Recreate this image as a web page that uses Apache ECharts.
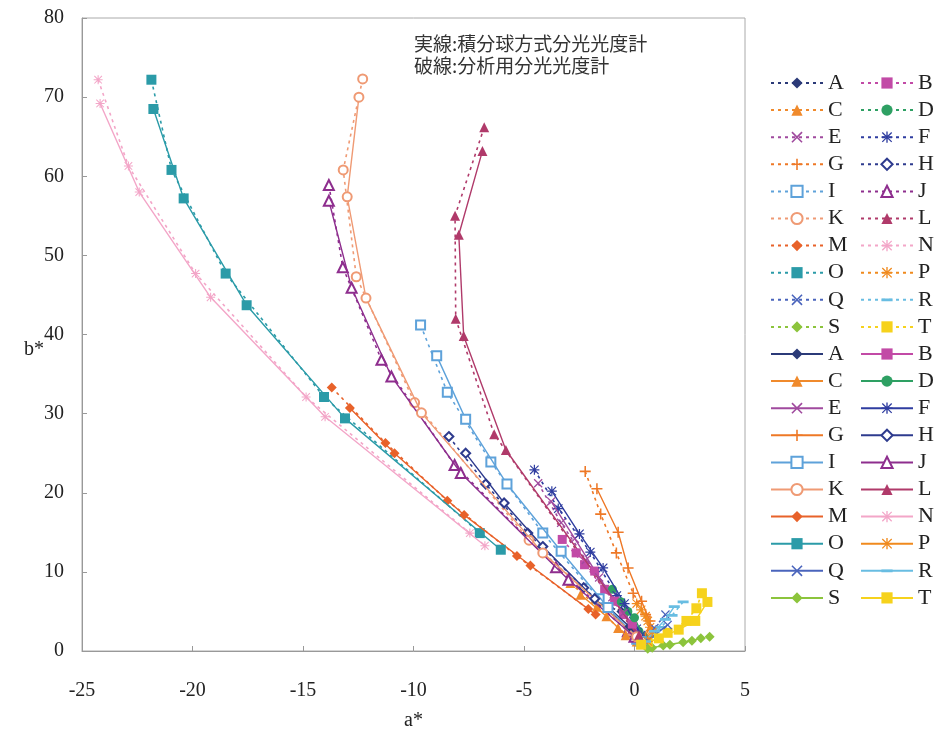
<!DOCTYPE html>
<html><head><meta charset="utf-8">
<script src="https://cdn.jsdelivr.net/npm/echarts@6/dist/echarts.min.js"></script>
<style>html,body{margin:0;padding:0;background:#fff}#c{width:938px;height:734px}</style>
</head><body><div id="c"></div>
<script>
// ---- data (a*, b*) : dashed = 分析用分光光度計, solid = 積分球方式分光光度計 ----
const A_d = [[-1.6,6.0],[-0.59,5.0],[0.1,2.2]];
const A_s = [[-1.14,5.4],[-0.23,3.1],[0.3,1.1]];
const B_d = [[-3.27,14.1],[-2.26,10.9],[-1.35,7.8],[-0.5,4.6],[0.2,2.0]];
const B_s = [[-2.64,12.4],[-1.8,10.1],[-0.9,6.3],[-0.1,3.4],[0.4,1.4]];
const C_d = [[-2.9,8.6],[-1.7,5.6],[-0.74,2.9],[0.1,1.2]];
const C_s = [[-2.44,7.1],[-1.27,4.4],[-0.4,2.0],[0.3,0.9]];
const D_d = [[-1.0,7.8],[-0.3,5.0],[0.2,2.5]];
const D_s = [[-0.6,6.2],[0.0,4.2],[0.4,1.8]];
const E_d = [[-4.36,21.2],[-3.32,16.2],[-2.2,11.5],[-1.0,6.8],[0.0,2.6]];
const E_s = [[-3.77,18.9],[-2.7,14.2],[-1.6,9.3],[-0.5,4.8],[0.3,1.6]];
const F_d = [[-4.53,22.9],[-3.45,18.0],[-2.0,12.5],[-0.8,7.0],[0.1,2.8]];
const F_s = [[-3.74,20.2],[-2.49,14.8],[-1.42,10.5],[-0.45,6.0],[0.3,2.0]];
const G_d = [[-2.23,22.7],[-1.53,17.3],[-0.82,12.4],[-0.06,7.3],[0.5,4.6],[0.8,2.6]];
const G_s = [[-1.7,20.5],[-0.74,15.0],[-0.29,10.5],[0.32,6.3],[0.7,3.8],[0.5,1.6]];
const H_d = [[-8.4,27.1],[-6.73,21.1],[-4.83,14.9],[-2.3,8.0],[-0.2,2.6]];
const H_s = [[-7.64,25.0],[-5.9,18.7],[-4.15,13.2],[-1.8,6.6],[0.1,1.8]];
const I_d = [[-9.68,41.2],[-8.47,32.7],[-6.5,23.9],[-4.15,14.9],[-1.6,6.6],[0.1,1.5]];
const I_s = [[-8.95,37.3],[-7.64,29.3],[-5.77,21.1],[-3.32,12.6],[-1.2,5.5],[0.3,1.2]];
const J_d = [[-13.83,58.9],[-13.2,48.5],[-11.45,36.8],[-8.14,23.5],[-3.55,10.6],[-0.3,2.5]];
const J_s = [[-13.83,56.9],[-12.8,45.9],[-11.0,34.7],[-7.86,22.5],[-2.99,9.0],[0.0,1.8]];
const K_d = [[-12.3,72.3],[-13.18,60.8],[-12.59,47.3],[-9.95,31.4],[-4.77,14.0],[-0.2,2.6]];
const K_s = [[-12.47,70.0],[-13.0,57.4],[-12.15,44.6],[-9.64,30.1],[-4.15,12.4],[0.1,1.8]];
const L_d = [[-6.8,66.2],[-8.12,55.0],[-8.09,42.0],[-6.35,27.4],[-0.1,2.8]];
const L_s = [[-6.88,63.2],[-7.95,52.6],[-7.73,39.8],[-5.82,25.4],[0.2,2.0]];
const M_d = [[-13.7,33.3],[-11.27,26.3],[-8.47,19.0],[-5.32,12.0],[-2.09,5.3]];
const M_s = [[-12.88,30.7],[-10.86,25.0],[-7.71,17.2],[-4.71,10.8],[-1.76,4.6]];
const N_d = [[-24.27,72.2],[-22.9,61.3],[-19.86,47.7],[-14.86,32.1],[-7.45,14.9]];
const N_s = [[-24.18,69.2],[-22.41,58.0],[-19.18,44.7],[-14.0,29.6],[-6.77,13.3]];
const O_d = [[-21.86,72.2],[-20.95,60.8],[-18.5,47.7],[-14.05,32.1],[-7.0,14.9]];
const O_s = [[-21.77,68.5],[-20.4,57.2],[-17.55,43.7],[-13.1,29.4],[-6.05,12.8]];
const P_d = [[0.1,6.0],[0.5,4.4],[0.7,3.0],[0.5,1.8]];
const P_s = [[0.3,5.2],[0.6,3.8],[0.8,2.4],[0.6,1.2]];
const Q_d = [[1.4,4.6],[0.9,2.9],[0.3,1.5]];
const Q_s = [[1.5,3.3],[1.0,2.2],[0.4,1.0]];
const R_d = [[2.2,6.2],[1.7,4.5],[1.2,3.0],[0.7,1.8]];
const R_s = [[1.8,5.6],[1.4,4.0],[0.9,2.5],[0.5,1.2]];
const S_d = [[3.4,1.8],[2.6,1.3],[1.6,0.8],[0.8,0.4]];
const S_s = [[3.0,1.6],[2.2,1.1],[1.3,0.7],[0.6,0.3]];
const T_d = [[3.05,7.3],[2.8,5.4],[2.35,3.8],[1.5,2.3],[0.6,1.0]];
const T_s = [[3.3,6.2],[2.75,3.8],[2.0,2.7],[1.1,1.6],[0.3,0.8]];

const letters = ['A','B','C','D','E','F','G','H','I','J','K','L','M','N','O','P','Q','R','S','T'];
const dashSets = [A_d,B_d,C_d,D_d,E_d,F_d,G_d,H_d,I_d,J_d,K_d,L_d,M_d,N_d,O_d,P_d,Q_d,R_d,S_d,T_d];
const solidSets = [A_s,B_s,C_s,D_s,E_s,F_s,G_s,H_s,I_s,J_s,K_s,L_s,M_s,N_s,O_s,P_s,Q_s,R_s,S_s,T_s];
const xTicks = [-25,5,5];   // min, max, interval
const yTicks = [0,80,10];
const note1 = '実線:積分球方式分光光度計';
const note2 = '破線:分析用分光光度計';

// ---- styles ----
const colors = ['#2b3a78','#c24aa6','#f08a2c','#2ea063','#a04a9e','#2f3da0','#ee7826','#2e3b8e','#5ea2da','#8e2e8e',
                '#ef9a74','#b03a6a','#e8622a','#f3a6c8','#2b9ba8','#f08a1e','#4a64bc','#68bde2','#8cc43c','#f6d21c'];
const X = 'path://M1,0L5,4L9,0L10,1L6,5L10,9L9,10L5,6L1,10L0,9L4,5L0,1Z';
const PLUS = 'path://M4.3,0h1.4v4.3h4.3v1.4h-4.3v4.3h-1.4v-4.3h-4.3v-1.4h4.3z';
const AST = 'path://M4.4,0h1.2v10h-1.2z M0,4.4h10v1.2h-10z M1.2,0.4L5,4.2L8.8,0.4L9.6,1.2L5.8,5L9.6,8.8L8.8,9.6L5,5.8L1.2,9.6L0.4,8.8L4.2,5L0.4,1.2Z';
const DASH = 'path://M0,3.8h10v2.4h-10z M0,0h0.01v0.01h-0.01z M9.99,9.99h0.01v0.01h-0.01z';
const symbols = ['diamond','rect','triangle','circle',X,AST,PLUS,'emptyDiamond','emptyRect','emptyTriangle',
                 'emptyCircle','triangle','diamond',AST,'rect',AST,X,DASH,'diamond','rect'];
const sizes = [10,9,10,9,9,10,11,9,9,10,9,10,10,9,10,10,9,11,10,10];

const series = [];
letters.forEach((L,i)=>{
  series.push({name:L+'_d', type:'line', data:dashSets[i], symbol:symbols[i], symbolSize:sizes[i], showSymbol:true,
    lineStyle:{color:colors[i], width:1.6, type:[3,4]}, itemStyle:{color:colors[i]}, z:2, silent:true});
});
letters.forEach((L,i)=>{
  series.push({name:L+'_s', type:'line', data:solidSets[i], symbol:symbols[i], symbolSize:sizes[i], showSymbol:true,
    lineStyle:{color:colors[i], width:1.4, type:'solid'}, itemStyle:{color:colors[i]}, z:3, silent:true});
});

const leftCol = [], rightCol = [];
['_d','_s'].forEach(suf=>letters.forEach((L,i)=>{ (i%2===0?leftCol:rightCol).push(L+suf); }));

const serif = '"Liberation Serif","DejaVu Serif",serif';
const legendBase = {orient:'vertical', top:67, itemWidth:52, itemHeight:14, itemGap:5.1, selectedMode:false,
  formatter:n=>n.charAt(0), textStyle:{fontFamily:serif, fontSize:22, color:'#222', lineHeight:21}};

const option = {
  animation:false,
  backgroundColor:'#fff',
  grid:{left:82, right:193, top:18, bottom:83, show:true, borderColor:'#aaa', borderWidth:1, outerBoundsMode:'none', containLabel:false},
  xAxis:{type:'value', min:xTicks[0], max:xTicks[1], interval:xTicks[2], name:'a*', nameLocation:'middle', nameGap:60,
    nameTextStyle:{fontFamily:serif, fontSize:20, color:'#222'},
    axisLine:{onZero:false, lineStyle:{color:'#999'}}, axisTick:{inside:true, length:5, lineStyle:{color:'#999'}},
    splitLine:{show:false}, axisLabel:{fontFamily:serif, fontSize:20, color:'#222', margin:30}},
  yAxis:{type:'value', min:yTicks[0], max:yTicks[1], interval:yTicks[2],
    axisLine:{show:true, onZero:false, lineStyle:{color:'#999'}}, axisTick:{show:true, inside:true, length:5, lineStyle:{color:'#999'}},
    splitLine:{show:false}, axisLabel:{fontFamily:serif, fontSize:20, color:'#222', margin:18}},
  legend:[Object.assign({left:765, data:leftCol}, legendBase), Object.assign({left:855, data:rightCol}, legendBase)],
  graphic:[
    {type:'text', left:414, top:34, style:{text:note1, font:'19px "Noto Sans CJK JP"', fill:'#333'}},
    {type:'text', left:414, top:56, style:{text:note2, font:'19px "Noto Sans CJK JP"', fill:'#333'}},
    {type:'text', x:34, y:350, style:{text:'b*', font:'20px "Liberation Serif", serif', fill:'#222', align:'center', verticalAlign:'middle'}}
  ],
  series:series
};
const chart = echarts.init(document.getElementById('c'), null, {renderer:'canvas'});
chart.setOption(option);
</script></body></html>
